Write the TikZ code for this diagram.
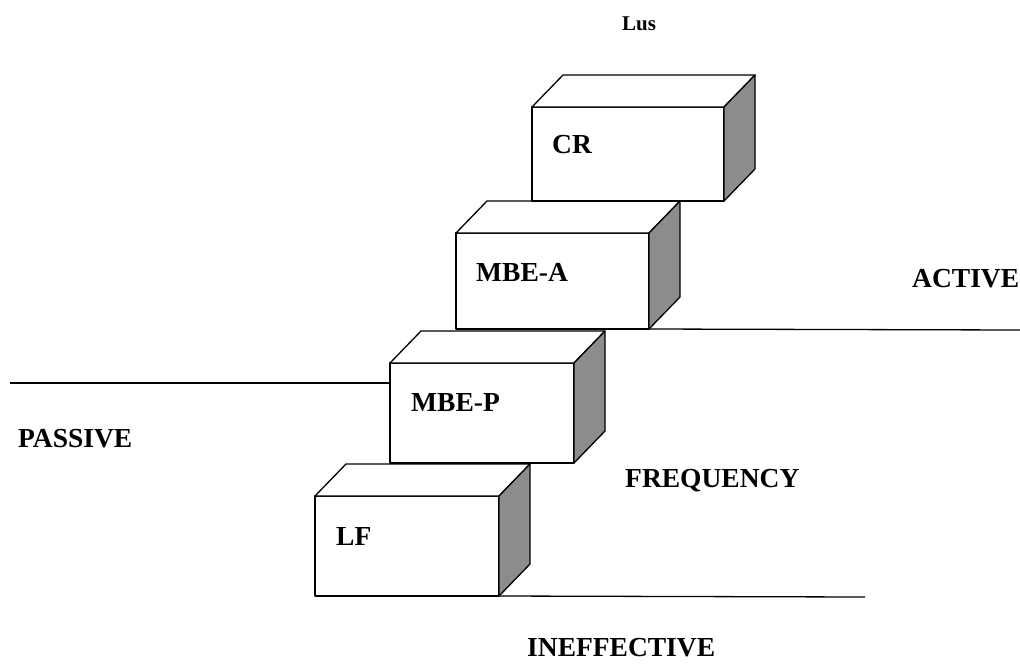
\documentclass[tikz,border=0pt]{standalone}
\usepackage{fontspec}
\setmainfont{Liberation Serif}
\begin{document}
\begin{tikzpicture}[x=1pt,y=-1pt,
  front/.style={draw=black,fill=white,line width=1.3pt,inner sep=0pt,outer sep=0pt,anchor=north west,line join=round},
  face/.style={draw=black,line width=1.3pt,line join=round},
  shade/.style={draw=black,fill=black!45,line width=1.3pt,line join=round},
  rule/.style={draw=black,line width=1.3pt},
  lbl/.style={font=\bfseries\fontsize{27.5}{30}\selectfont,inner sep=0pt,anchor=west},
  small/.style={font=\bfseries\fontsize{21}{23}\selectfont,inner sep=0pt,anchor=west}]
\useasboundingbox (0,0) rectangle (1020,665);
% boxes: name / x / y / width / height
\foreach \n/\x/\y/\w/\h in {lf/315/496/184/100, mbep/390/363/184/100, mbea/456/233/193/96, cr/532/107/192/94}{
  \node[front,minimum width=\w pt,minimum height=\h pt] (\n) at (\x,\y) {};
  \draw[face,fill=white] (\n.north west) -- ++(31,-32) -- ++(\w,0) -- (\n.north east) -- cycle;
  \draw[shade] (\n.north east) -- ++(31,-32) -- ++(0,\h) -- (\n.south east) -- cycle;
}
% labels inside boxes
\node[lbl] (tcr) at ([xshift=20pt,yshift=-38pt]cr.north west) {CR};
\node[lbl] (tmbea) at ([xshift=20pt,yshift=-39pt]mbea.north west) {MBE-A};
\node[lbl] (tmbep) at ([xshift=21pt,yshift=-40pt]mbep.north west) {MBE-P};
\node[lbl] (tlf) at ([xshift=21pt,yshift=-40pt]lf.north west) {LF};
% reference lines
\coordinate (pend) at (10,383);
\coordinate (aend) at (1020,330);
\coordinate (iend) at (865,597);
\draw[rule] (pend) -- (mbep.west |- pend);
\draw[rule] (mbea.south east) -- (aend);
\draw[rule] (lf.south east) -- (iend);
% outside labels
\node[small] (lus) at (622,24) {Lus};
\node[lbl] (active) at (912,279) {ACTIVE};
\node[lbl] (passive) at (18,439) {PASSIVE};
\node[lbl] (freq) at (625,481) {FREQUENCY};
\node[lbl] (ineff) at (527,648) {INEFFECTIVE};
\end{tikzpicture}
\end{document}
